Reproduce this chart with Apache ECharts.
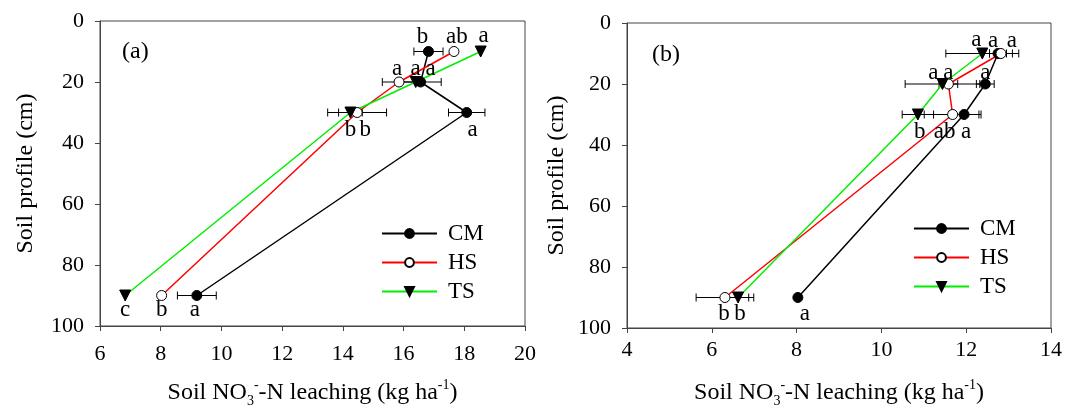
<!DOCTYPE html>
<html>
<head>
<meta charset="utf-8">
<script src="https://cdn.jsdelivr.net/npm/echarts@6/dist/echarts.min.js"></script>
<style>
html, body { margin: 0; padding: 0; background: #fff; }
#chart { width: 1065px; height: 413px; }
</style>
</head>
<body>
<div id="chart"></div>
<script>
// soil depth (cm)
var depth = [10, 20, 30, 90];

// panel (a)
var cmA = [16.82, 16.56, 18.08, 9.19];
var hsA = [17.66, 15.85, 14.47, 8.03];
var tsA = [18.54, 16.40, 14.25, 6.83];
var cmErrA = [0.48, 0.68, 0.60, 0.64];
var hsErrA = [0, 0.55, 0.97, 0];
var tsErrA = [0, 0, 0.39, 0];
var cmLetA = ['b', 'a', 'a', 'a'];
var hsLetA = ['ab', 'a', 'b', 'b'];
var tsLetA = ['a', 'a', 'b', 'c'];

// panel (b)
var cmB = [12.75, 12.45, 11.95, 8.03];
var hsB = [12.82, 11.58, 11.68, 6.31];
var tsB = [12.38, 11.44, 10.86, 6.62];
var cmErrB = [0.20, 0.21, 0.35, 0];
var hsErrB = [0.27, 0.22, 0.67, 0.68];
var tsErrB = [0.86, 0.88, 0.37, 0.25];
var cmLetB = ['a', 'a', 'a', 'a'];
var hsLetB = ['a', 'a', 'ab', 'b'];
var tsLetB = ['a', 'a', 'b', 'b'];

// tick labels
var xTicksA = [6, 8, 10, 12, 14, 16, 18, 20];
var xTicksB = [4, 6, 8, 10, 12, 14];
var yTicks = [0, 20, 40, 60, 80, 100];

var names = ['CM', 'HS', 'TS'];

// letter placement (style only)
var labelPos = ['top', 'top', 'bottom', 'bottom'];
var dyA = [2, 4, 0, -3];
var dyB = [4, 6, 0, -1];
var dxA = { CM: [-6, 10, 6, -2], HS: [3, -2, 8, 0], TS: [3, 0, 0, 0] };
var dxB = { CM: [-5, 0, 2, 7], HS: [11, 0, -8, -1], TS: [-6, -9, 2, 2] };

var font = "'Liberation Serif', 'Times New Roman', serif";
var axisColor = '#444';

var styles = {
	CM: { symbol: 'circle', size: 10, rotate: 0, line: '#000', fill: '#000' },
	HS: { symbol: 'circle', size: 10, rotate: 0, line: '#ff0000', fill: '#fff' },
	TS: { symbol: 'triangle', size: 11, rotate: 180, line: '#00ee00', fill: '#000' }
};

function lineSeries(name, idx, xs, letters, dx, dy) {
	var st = styles[name];
	var data = [];
	for (var i = 0; i < xs.length; i++) {
		data.push({
			value: [xs[i], depth[i]],
			label: {
				show: true,
				formatter: letters[i],
				position: labelPos[i],
				distance: 0,
				offset: [dx[i], dy[i]]
			}
		});
	}
	return {
		name: name,
		type: 'line',
		xAxisIndex: idx,
		yAxisIndex: idx,
		data: data,
		symbol: st.symbol,
		symbolSize: st.size,
		symbolRotate: st.rotate,
		showAllSymbol: true,
		z: 3,
		lineStyle: { color: st.line, width: 1.5 },
		itemStyle: { color: st.fill, borderColor: '#000', borderWidth: 1, opacity: 1 },
		label: { fontFamily: font, fontSize: 23, color: '#000' },
		emphasis: { disabled: true },
		animation: false
	};
}

function errSeries(idx, xs, errs) {
	var data = [];
	for (var i = 0; i < xs.length; i++) {
		if (errs[i] > 0) data.push([xs[i], depth[i], errs[i]]);
	}
	return {
		type: 'custom',
		xAxisIndex: idx,
		yAxisIndex: idx,
		data: data,
		z: 2,
		silent: true,
		animation: false,
		renderItem: function(params, api) {
			var x = api.value(0), y = api.value(1), e = api.value(2);
			var p1 = api.coord([x - e, y]);
			var p2 = api.coord([x + e, y]);
			var st = { stroke: '#000', lineWidth: 1 };
			return {
				type: 'group',
				children: [
					{ type: 'line', shape: { x1: p1[0], y1: p1[1], x2: p2[0], y2: p2[1] }, style: st },
					{ type: 'line', shape: { x1: p1[0], y1: p1[1] - 4, x2: p1[0], y2: p1[1] + 4 }, style: st },
					{ type: 'line', shape: { x1: p2[0], y1: p2[1] - 4, x2: p2[0], y2: p2[1] + 4 }, style: st }
				]
			};
		}
	};
}

function xAxisOf(idx, ticks, margin, gap) {
	return {
		gridIndex: idx,
		type: 'value',
		min: ticks[0],
		max: ticks[ticks.length - 1],
		interval: ticks[1] - ticks[0],
		name: 'Soil NO{sub|3}{sup|-}-N leaching (kg ha{sup|-1})',
		nameLocation: 'middle',
		nameGap: gap,
		nameTextStyle: {
			fontFamily: font, fontSize: 24, color: '#000', lineHeight: 30,
			rich: {
				sub: { fontFamily: font, fontSize: 14, lineHeight: 14, verticalAlign: 'bottom', color: '#000' },
				sup: { fontFamily: font, fontSize: 14, lineHeight: 14, verticalAlign: 'top', color: '#000' }
			}
		},
		axisLine: { show: true, onZero: false, lineStyle: { color: axisColor, width: 1 } },
		axisTick: { show: true, length: 5, lineStyle: { color: axisColor } },
		axisLabel: { fontFamily: font, fontSize: 22, color: '#000', margin: margin },
		splitLine: { show: false }
	};
}

function yAxisOf(idx, gap) {
	return {
		gridIndex: idx,
		type: 'value',
		inverse: true,
		min: yTicks[0],
		max: yTicks[yTicks.length - 1],
		interval: yTicks[1] - yTicks[0],
		name: 'Soil profile (cm)',
		nameLocation: 'middle',
		nameGap: gap,
		nameTextStyle: { fontFamily: font, fontSize: 24, color: '#000' },
		axisLine: { show: true, onZero: false, lineStyle: { color: axisColor, width: 1 } },
		axisTick: { show: true, length: 5, lineStyle: { color: axisColor } },
		axisLabel: { fontFamily: font, fontSize: 22, color: '#000', margin: 16 },
		splitLine: { show: false }
	};
}

function legendOf(left, top) {
	return {
		orient: 'vertical',
		left: left,
		top: top,
		itemWidth: 55,
		itemHeight: 11,
		itemGap: 6,
		selectedMode: false,
		symbolRotate: 'inherit',
		textStyle: { fontFamily: font, fontSize: 23, color: '#000', padding: [0, 0, 0, 6] },
		data: names
	};
}

var series = [
	errSeries(0, cmA, cmErrA),
	errSeries(0, hsA, hsErrA),
	errSeries(0, tsA, tsErrA),
	errSeries(1, cmB, cmErrB),
	errSeries(1, hsB, hsErrB),
	errSeries(1, tsB, tsErrB),
	lineSeries('CM', 0, cmA, cmLetA, dxA.CM, dyA),
	lineSeries('HS', 0, hsA, hsLetA, dxA.HS, dyA),
	lineSeries('TS', 0, tsA, tsLetA, dxA.TS, dyA),
	lineSeries('CM', 1, cmB, cmLetB, dxB.CM, dyB),
	lineSeries('HS', 1, hsB, hsLetB, dxB.HS, dyB),
	lineSeries('TS', 1, tsB, tsLetB, dxB.TS, dyB)
];

var options = {
	backgroundColor: '#fff',
	animation: false,
	grid: [
		{ left: 100, top: 21, width: 425, height: 307, show: true, borderColor: axisColor, borderWidth: 1, backgroundColor: 'transparent' },
		{ left: 627, top: 23, width: 425, height: 307, show: true, borderColor: axisColor, borderWidth: 1, backgroundColor: 'transparent' }
	],
	xAxis: [xAxisOf(0, xTicksA, 17, 52), xAxisOf(1, xTicksB, 11, 50)],
	yAxis: [yAxisOf(0, 62), yAxisOf(1, 58)],
	legend: [legendOf(376, 217), legendOf(908, 212)],
	graphic: [
		{ type: 'text', left: 122, top: 40, style: { text: '(a)', font: '24px ' + font, fill: '#000' } },
		{ type: 'text', left: 652, top: 43, style: { text: '(b)', font: '24px ' + font, fill: '#000' } }
	],
	series: series
};

var myChart = echarts.init(document.getElementById('chart'));
myChart.setOption(options);
</script>
</body>
</html>
